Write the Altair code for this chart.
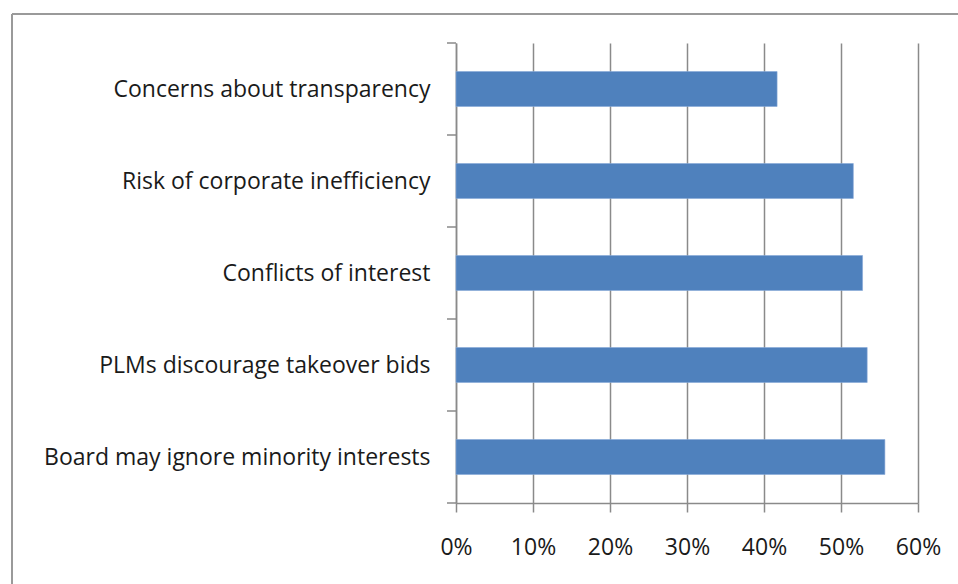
import json
import altair as alt
import pandas as pd

categories = [
    "Concerns about transparency",
    "Risk of corporate inefficiency",
    "Conflicts of interest",
    "PLMs discourage takeover bids",
    "Board may ignore minority interests",
]
values = [0.417, 0.516, 0.528, 0.534, 0.557]
tick_values = [0, 0.1, 0.2, 0.3, 0.4, 0.5, 0.6]
band_edges = [0, 1, 2, 3, 4, 5]

df = pd.DataFrame({"category": categories, "value": values, "pos": list(range(len(categories)))})
edges = pd.DataFrame({"b": band_edges})

GRID = "#8a8a8a"
TEXT = "#1a1a1a"
FONT = "Open Sans"
FS = 23

yscale = alt.Scale(domain=[0, 5], reverse=True, nice=False, zero=False)
xscale = alt.Scale(domain=[0, 0.6], nice=False)
label_expr = "%s[floor(datum.value)]" % json.dumps(categories)

yaxis = alt.Axis(
    title=None, grid=False, ticks=False,
    values=[0.5, 1.5, 2.5, 3.5, 4.5], labelExpr=label_expr,
    domainColor=GRID, domainWidth=1.5,
    labelFont=FONT, labelFontSize=FS, labelColor=TEXT, labelPadding=26,
    labelLimit=600, labelFlush=False, labelOverlap=False,
)
xaxis = alt.Axis(
    format=".0%", values=tick_values, title=None,
    grid=True, gridColor=GRID, gridWidth=1.5,
    domainColor=GRID, domainWidth=1.5,
    tickColor=GRID, tickWidth=1.5, tickSize=9,
    labelFont=FONT, labelFontSize=FS, labelColor=TEXT, labelPadding=24,
    labelFlush=False, labelOverlap=False,
)

bars = alt.Chart(df).transform_calculate(
    y0="datum.pos + 0.31", y1="datum.pos + 0.69", zero="0"
).mark_bar(color="#4F81BD", stroke="#86a8d6", strokeWidth=0.6).encode(
    x=alt.X("value:Q", scale=xscale, axis=xaxis),
    x2="zero:Q",
    y=alt.Y("y0:Q", scale=yscale, axis=yaxis),
    y2="y1:Q",
)

ticks = alt.Chart(edges).mark_rule(color=GRID, strokeWidth=1.5).encode(
    y=alt.Y("b:Q", scale=yscale, axis=yaxis),
    x=alt.value(-9), x2=alt.value(0),
)

border_left = alt.Chart(edges).mark_rule(color="#9a9a9a", strokeWidth=2).encode(
    x=alt.value(-444), y=alt.value(-29), y2=alt.value(560)
)
border_top = alt.Chart(edges).mark_rule(color="#9a9a9a", strokeWidth=2).encode(
    x=alt.value(-444), x2=alt.value(520), y=alt.value(-29)
)

chart = alt.layer(bars, ticks, border_left, border_top).properties(
    width=462, height=460,
    autosize=alt.AutoSizeParams(type="none"),
    padding={"left": 456, "top": 43, "right": 40, "bottom": 81},
    background="white",
).configure_view(stroke=None)

chart.save("out.html", embed_options={"renderer": "svg", "actions": False})
